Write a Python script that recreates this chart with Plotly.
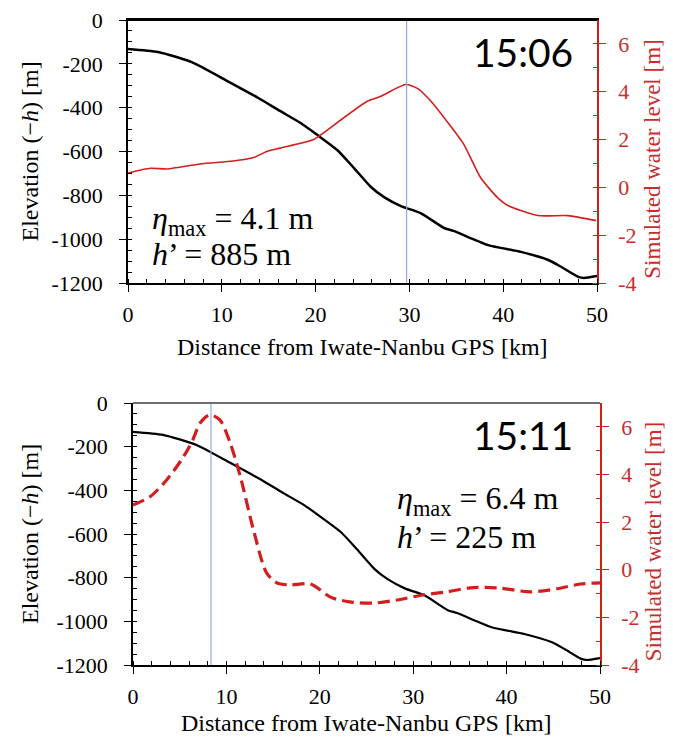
import plotly.graph_objects as go

# ---- data ----
depth_x = [0, 3.2, 6.8, 10.4, 13.9, 16.2, 18.4, 20.2, 22.3, 24.0, 25.9, 27.3, 29.1, 31.2, 33.7, 34.7,
           38.4, 41.9, 44.8, 46.2, 48.0, 48.6, 50.0]
depth_y = [-132, -146, -192, -274, -356, -415, -470, -525, -593, -671, -762, -808, -849, -881, -949, -962,
           -1027, -1058, -1095, -1127, -1172, -1177, -1168]

wl1_x = [0, 2.4, 4.2, 7.7, 11.2, 13.4, 14.8, 16.2, 19.8, 20.8, 25.5, 26.9, 29.6, 30.9, 32.3, 34.0,
         35.8, 37.6, 39.4, 40.5, 43.7, 46.9, 49.9]
wl1_y = [0.6, 0.8, 0.77, 0.98, 1.1, 1.25, 1.5, 1.64, 2.0, 2.27, 3.6, 3.8, 4.3, 4.13, 3.6, 2.76,
         1.8, 0.4, -0.43, -0.76, -1.18, -1.18, -1.39]

wl2_x = [0, 1.8, 3.6, 5.4, 6.4, 7.2, 8.2, 9.3, 10.4, 11.5, 12.9, 14.3, 15.4, 16.8, 19.0, 21.2,
         23.2, 25.7, 28.3, 31.0, 33.6, 36.1, 39.0, 42.5, 45.4, 47.9, 50.0]
wl2_y = [2.72, 3.06, 3.77, 4.74, 5.45, 6.17, 6.5, 6.29, 5.33, 3.9, 1.67, -0.13, -0.55, -0.64, -0.6, -1.16,
         -1.35, -1.4, -1.27, -1.06, -0.93, -0.76, -0.76, -0.93, -0.8, -0.6, -0.55]

vline1 = 29.7
vline2 = 8.35
times = ["15:06", "15:11"]
eta_max = ["4.1", "6.4"]
h_prime = ["885", "225"]

x_ticks = [0, 10, 20, 30, 40, 50]
x_ticktext = ["0", "10", "20", "30", "40", "50"]
left_ticks = [0, -200, -400, -600, -800, -1000, -1200]
left_ticktext = ["0", "-200", "-400", "-600", "-800", "-1000", "-1200"]
right_ticks = [-4, -2, 0, 2, 4, 6]
right_ticktext = ["-4", "-2", "0", "2", "4", "6"]

# page is rendered with an 8px body margin: keep the figure inside the viewport
OFF = 8
W, H = 673 - 2 * OFF, 744 - 2 * OFF
RED = "rgb(210,30,30)"
RED_T = "rgb(200,45,45)"
BLUE = "rgb(140,170,230)"
SERIF = "Times New Roman, Liberation Serif, serif"

def px_x(p):
    return (p - OFF) / W

def px_y(p):
    return 1 - (p - OFF) / H

fig = go.Figure()

# top panel
fig.add_trace(go.Scatter(x=depth_x, y=depth_y, mode="lines",
                         line=dict(color="black", width=2.5, shape="spline", smoothing=0.6),
                         xaxis="x", yaxis="y", showlegend=False))
fig.add_trace(go.Scatter(x=wl1_x, y=wl1_y, mode="lines",
                         line=dict(color=RED, width=1.6, shape="spline", smoothing=0.6),
                         xaxis="x", yaxis="y2", showlegend=False))
fig.add_trace(go.Scatter(x=[vline1, vline1], y=[-4, 7], mode="lines", line=dict(color=BLUE, width=1.2),
                         xaxis="x", yaxis="y2", showlegend=False))
# bottom panel
fig.add_trace(go.Scatter(x=depth_x, y=depth_y, mode="lines",
                         line=dict(color="black", width=2.2, shape="spline", smoothing=0.6),
                         xaxis="x2", yaxis="y3", showlegend=False))
fig.add_trace(go.Scatter(x=wl2_x, y=wl2_y, mode="lines",
                         line=dict(color=RED, width=3.2, dash="12px,6px", shape="spline", smoothing=0.8),
                         xaxis="x2", yaxis="y4", showlegend=False))
fig.add_trace(go.Scatter(x=[vline2, vline2], y=[-4, 7], mode="lines", line=dict(color=BLUE, width=1.2),
                         xaxis="x2", yaxis="y4", showlegend=False))

TICK_SIZE = 22
tickfont = dict(family=SERIF, size=TICK_SIZE, color="black")

def xaxis(domain, anchor, mirror):
    return dict(domain=domain, anchor=anchor, range=[0, 50], tickmode="array",
                tickvals=x_ticks, ticktext=x_ticktext, automargin=False, ticklabeloverflow="allow",
                showline=True, linecolor="black", linewidth=1.5, mirror=mirror,
                ticks="outside", ticklen=7, tickwidth=1.2, tickcolor="black", ticklabelstandoff=4,
                minor=dict(dtick=2, ticks="inside", ticklen=4, tickcolor="black", tickwidth=1),
                showgrid=False, zeroline=False, tickfont=tickfont)

def yleft(domain, anchor):
    return dict(domain=domain, anchor=anchor, range=[-1200, 0], tickmode="array",
                tickvals=left_ticks, ticktext=left_ticktext, automargin=False, ticklabeloverflow="allow",
                showline=True, linecolor="black", linewidth=1.5,
                ticks="outside", ticklen=7, tickwidth=1.2, tickcolor="black", ticklabelstandoff=12,
                minor=dict(dtick=50, ticks="inside", ticklen=4, tickcolor="black", tickwidth=1),
                showgrid=False, zeroline=False, tickfont=tickfont)

def yright(overlay, anchor):
    return dict(overlaying=overlay, anchor=anchor, side="right", range=[-4, 7], tickmode="array",
                tickvals=right_ticks, ticktext=right_ticktext, automargin=False, ticklabeloverflow="allow",
                showline=True, linecolor=RED, linewidth=1.5,
                ticks="outside", ticklen=7, tickwidth=1.2, tickcolor=RED, ticklabelstandoff=8,
                minor=dict(dtick=1, ticks="inside", ticklen=4, tickcolor=RED, tickwidth=1),
                showgrid=False, zeroline=False,
                tickfont=dict(family=SERIF, size=TICK_SIZE, color=RED_T))

top_x = [px_x(128), px_x(597)]
top_y = [px_y(283), px_y(20)]
bot_x = [px_x(133), px_x(600)]
bot_y = [px_y(665), px_y(403)]

fig.update_layout(
    width=W, height=H, margin=dict(l=0, r=0, t=0, b=0, autoexpand=False),
    paper_bgcolor="white", plot_bgcolor="white",
    xaxis=xaxis(top_x, "y", True),
    yaxis=yleft(top_y, "x"),
    yaxis2=yright("y", "x"),
    xaxis2=xaxis(bot_x, "y3", False),
    yaxis3=yleft(bot_y, "x2"),
    yaxis4=yright("y3", "x2"),
)

# top borders
fig.add_shape(type="line", xref="paper", yref="paper", x0=top_x[0], x1=top_x[1], y0=top_y[1], y1=top_y[1],
              line=dict(color="black", width=2), layer="above")
fig.add_shape(type="line", xref="paper", yref="paper", x0=bot_x[0], x1=bot_x[1], y0=bot_y[1], y1=bot_y[1],
              line=dict(color="rgb(110,110,110)", width=2), layer="above")

ann = []
title_font = dict(family=SERIF, size=24, color="black")
for (xd, yd, tcx, tcy, ty, ex, ey1, ey2, i) in [
    (top_x, top_y, 575, 52, 347, 150, 220, 254, 0),
    (bot_x, bot_y, 575, 435, 723, 395, 500, 537, 1),
]:
    ycen = (yd[0] + yd[1]) / 2
    xcen = (xd[0] + xd[1]) / 2
    ann.append(dict(xref="paper", yref="paper", x=px_x(30), y=ycen, text="Elevation (−<i>h</i>) [m]",
                    textangle=-90, showarrow=False, font=title_font, xanchor="center", yanchor="middle"))
    ann.append(dict(xref="paper", yref="paper", x=px_x(653), y=ycen - 0.01, text="Simulated water level [m]",
                    textangle=-90, showarrow=False, font=dict(family=SERIF, size=23, color=RED_T),
                    xanchor="center", yanchor="middle"))
    ann.append(dict(xref="paper", yref="paper", x=xcen, y=px_y(ty), text="Distance from Iwate-Nanbu GPS [km]",
                    showarrow=False, font=title_font, xanchor="center", yanchor="middle"))
    ann.append(dict(xref="paper", yref="paper", x=px_x(tcx), y=px_y(tcy), text=times[i],
                    showarrow=False, font=dict(family="Lato", size=39, color="black"),
                    xanchor="right", yanchor="middle"))
    ann.append(dict(xref="paper", yref="paper", x=px_x(ex), y=px_y(ey1),
                    text="<i>η</i><sub>max</sub> = " + eta_max[i] + " m",
                    showarrow=False, font=dict(family=SERIF, size=32, color="black"),
                    xanchor="left", yanchor="middle"))
    ann.append(dict(xref="paper", yref="paper", x=px_x(ex), y=px_y(ey2),
                    text="<i>h</i>’ = " + h_prime[i] + " m",
                    showarrow=False, font=dict(family=SERIF, size=32, color="black"),
                    xanchor="left", yanchor="middle"))

fig.update_layout(annotations=ann)
fig.write_html("out.html")
